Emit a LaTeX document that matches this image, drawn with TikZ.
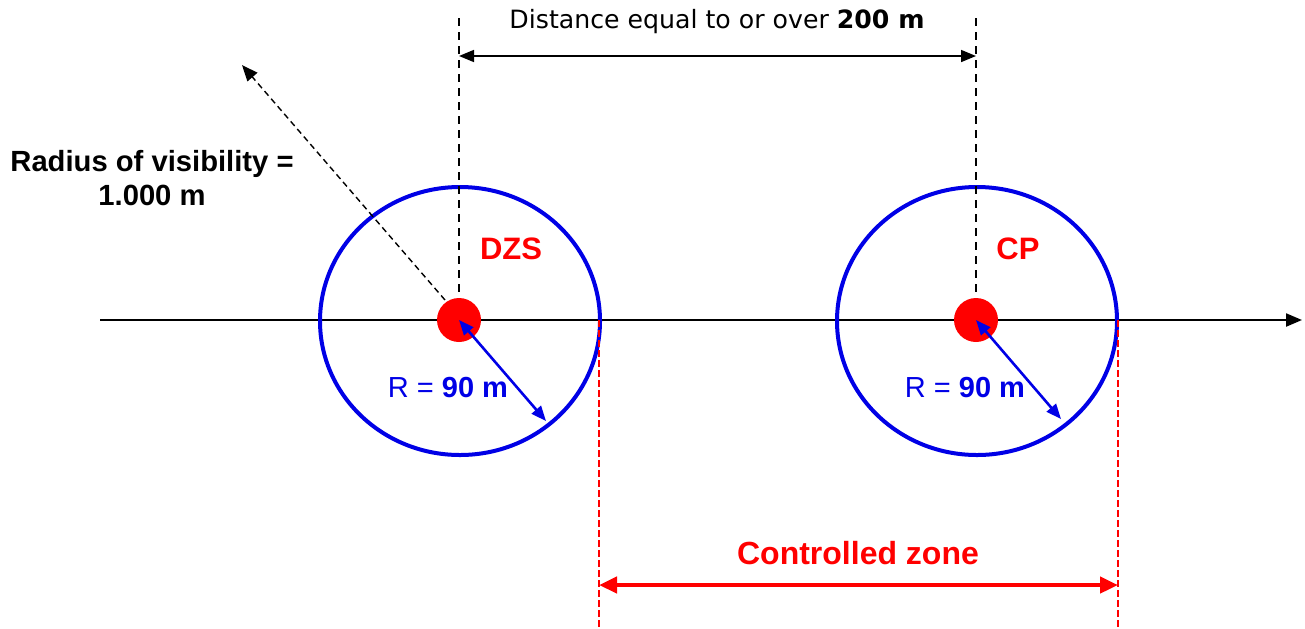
\documentclass[tikz,border=0pt]{standalone}
\usepackage{fontspec}
\setmainfont{Liberation Sans}
\newfontfamily\dimfont{DejaVu Sans}
\usetikzlibrary{arrows.meta}
\definecolor{zonered}{RGB}{255,0,0}
\definecolor{ringblue}{RGB}{0,0,230}
\begin{document}
\begin{tikzpicture}[x=0.5pt,y=-0.5pt,
  tip/.style={-{Triangle[length=8pt,width=6.5pt]}},
  ring/.style={ringblue,line width=2pt},
  site/.style={circle,fill=zonered,inner sep=0pt,minimum size=22pt},
  guide/.style={black,line width=1.1pt,dash pattern=on 4pt off 3pt},
  redguide/.style={zonered,line width=0.8pt,dash pattern=on 3.5pt off 1.5pt},
  lbl/.style={font=\fontsize{14.5}{17}\selectfont}]
\useasboundingbox (0,0) rectangle (1305,628);
% main axis
\coordinate (axl) at (100,320);
\coordinate (axr) at (1302,320);
\draw[line width=1.1pt,tip] (axl) -- (axr);
% rings
\draw[ring] (460,321) ellipse [x radius=140,y radius=134];
\draw[ring] (977,321) ellipse [x radius=140,y radius=134];
% vertical guides
\foreach \n/\x in {l/459,r/976} {
  \coordinate (top\n) at (\x,18);
  \coordinate (mid\n) at (\x,320);
  \draw[guide] (top\n) -- (mid\n);
}
\foreach \n/\x in {l/599,r/1118} {
  \coordinate (zt\n) at (\x,320);
  \coordinate (zb\n) at (\x,628);
  \draw[redguide] (zt\n) -- (zb\n);
}
% sites
\node[site] (dzs) at (459,320) {};
\node[site] (cp) at (976,320) {};
\node[text=zonered,font=\fontsize{15.5}{17}\selectfont\bfseries] (dzslbl) at (511,249) {DZS};
\node[text=zonered,font=\fontsize{15.5}{17}\selectfont\bfseries] (cplbl) at (1018,249) {CP};
% radii
\coordinate (rimdzs) at (546,421);
\coordinate (rimcp) at (1061,419);
\draw[ringblue,line width=1.3pt,{Triangle[length=7.5pt,width=6pt]}-{Triangle[length=7.5pt,width=6pt]}] (dzs.center) -- (rimdzs);
\draw[ringblue,line width=1.3pt,{Triangle[length=7.5pt,width=6pt]}-{Triangle[length=7.5pt,width=6pt]}] (cp.center) -- (rimcp);
\node[lbl,text=ringblue] (rdzs) at (448,388) {R = \textbf{90 m}};
\node[lbl,text=ringblue] (rcp) at (965,388) {R = \textbf{90 m}};
% distance between sites
\coordinate (dl) at (459,56);
\coordinate (dr) at (976,56);
\draw[line width=0.8pt,{Triangle[length=7.5pt,width=6pt]}-{Triangle[length=7.5pt,width=6pt]}] (dl) -- (dr);
\node[font=\dimfont\fontsize{12.6}{15}\selectfont] (dist) at (717,22) {Distance equal to or over \textbf{200 m}};
% visibility
\coordinate (vis) at (242,65);
\draw[line width=0.7pt,dash pattern=on 3pt off 2pt,tip] (dzs.center) ++(-14,-20) -- (vis);
\node[lbl,font=\fontsize{14.6}{17}\selectfont\bfseries,align=center] (vislbl) at (152,178) {Radius of visibility =\\1.000 m};
% controlled zone
\draw[zonered,line width=2.2pt,{Triangle[length=9pt,width=8pt]}-{Triangle[length=9pt,width=8pt]}] (ztl |- 0,585) -- (ztr |- 0,585);
\node[text=zonered,font=\fontsize{16}{19}\selectfont\bfseries] (zone) at (858,553) {Controlled zone};
\end{tikzpicture}
\end{document}
